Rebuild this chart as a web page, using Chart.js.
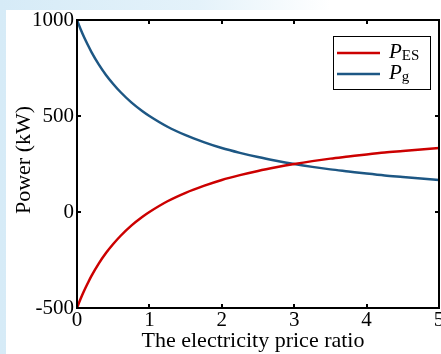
<!DOCTYPE html>
<html>
<head>
<meta charset="utf-8">
<script src="https://cdn.jsdelivr.net/npm/chart.js@4.4.1/dist/chart.umd.min.js"></script>
<style>
  html, body { margin: 0; padding: 0; }
  body {
    width: 441px; height: 354px; overflow: hidden;
    background: linear-gradient(90deg, #d6ebf7 0%, #e4f2fa 45%, #ffffff 75%);
  }
  #wrap { position: relative; width: 441px; height: 354px; }
  canvas { position: absolute; left: 0; top: 0; }
</style>
</head>
<body>
<div id="wrap"><canvas id="c" width="441" height="354"></canvas></div>
<script>
// ---- data ----
const priceRatio = [0, 0.05, 0.1, 0.15, 0.2, 0.3, 0.4, 0.5, 0.6, 0.75, 0.9, 1, 1.25, 1.5, 1.75, 2, 2.25, 2.5, 2.75, 3, 3.25, 3.5, 3.75, 4, 4.25, 4.5, 4.75, 5];
const powerES = [-500, -452, -409, -370, -333, -269, -214, -167, -125, -71, -26, 0, 56, 100, 136, 167, 192, 214, 233, 250, 265, 278, 289, 300, 310, 318, 326, 333];
const powerG  = [1000, 952, 909, 870, 833, 769, 714, 667, 625, 571, 526, 500, 444, 400, 364, 333, 308, 286, 267, 250, 235, 222, 211, 200, 190, 182, 174, 167];
const xTicks = [0, 1, 2, 3, 4, 5];
const yTicks = [-500, 0, 500, 1000];
const seriesNames = [{ main: 'P', sub: 'ES' }, { main: 'P', sub: 'g' }];
const xTitle = 'The electricity price ratio';
const yTitle = 'Power (kW)';

const RED = '#cc0000';
const BLUE = '#1d5784';
const FONT = '"Liberation Serif", "Times New Roman", serif';

const toPts = (xs, ys) => xs.map((x, i) => ({ x: x, y: ys[i] }));

const framePlugin = {
  id: 'frame',
  beforeDraw(chart) {
    const ctx = chart.ctx;
    ctx.save();
    ctx.fillStyle = '#ffffff';
    ctx.fillRect(6, 10, 441, 354);
    ctx.restore();
  },
  afterDatasetsDraw(chart) {
    const ctx = chart.ctx;
    const a = chart.chartArea;
    const xs = chart.scales.x, ys = chart.scales.y;
    ctx.save();
    ctx.strokeStyle = '#000';
    ctx.lineWidth = 2;
    ctx.strokeRect(a.left, a.top, a.right - a.left, a.bottom - a.top);
    const tl = 4;
    ctx.beginPath();
    xTicks.forEach(v => {
      const px = Math.round(xs.getPixelForValue(v));
      ctx.moveTo(px, a.bottom); ctx.lineTo(px, a.bottom - tl);
      ctx.moveTo(px, a.top); ctx.lineTo(px, a.top + tl);
    });
    yTicks.forEach(v => {
      const py = Math.round(ys.getPixelForValue(v));
      ctx.moveTo(a.left, py); ctx.lineTo(a.left + tl, py);
      ctx.moveTo(a.right, py); ctx.lineTo(a.right - tl, py);
    });
    ctx.stroke();

    // legend
    const lx = 333, ly = 36, lw = 97, lh = 53;
    ctx.fillStyle = '#fff';
    ctx.fillRect(lx, ly, lw, lh);
    ctx.lineWidth = 1;
    ctx.strokeStyle = '#000';
    ctx.strokeRect(lx + 0.5, ly + 0.5, lw, lh);
    const rows = [{ c: RED, y: 53 }, { c: BLUE, y: 74 }];
    rows.forEach((r, i) => {
      ctx.strokeStyle = r.c;
      ctx.lineWidth = 2.5;
      ctx.beginPath();
      ctx.moveTo(337, r.y); ctx.lineTo(380, r.y);
      ctx.stroke();
      ctx.fillStyle = '#000';
      ctx.textBaseline = 'alphabetic';
      ctx.textAlign = 'left';
      ctx.font = 'italic 21px ' + FONT;
      ctx.fillText(seriesNames[i].main, 389, r.y + 5);
      const w = ctx.measureText(seriesNames[i].main).width;
      ctx.font = '15px ' + FONT;
      ctx.fillText(seriesNames[i].sub, 389 + w, r.y + 7);
    });

    // axis titles
    ctx.fillStyle = '#000';
    ctx.font = '22px ' + FONT;
    ctx.textAlign = 'center';
    ctx.textBaseline = 'middle';
    ctx.fillText(xTitle, 253, 341);
    ctx.translate(24, 160);
    ctx.rotate(-Math.PI / 2);
    ctx.fillText(yTitle, 0, 0);
    ctx.restore();
  }
};

new Chart(document.getElementById('c'), {
  type: 'line',
  data: {
    datasets: [
      { label: 'P_ES', data: toPts(priceRatio, powerES), borderColor: RED, borderWidth: 2.5, pointRadius: 0, cubicInterpolationMode: 'monotone', fill: false },
      { label: 'P_g', data: toPts(priceRatio, powerG), borderColor: BLUE, borderWidth: 2.5, pointRadius: 0, cubicInterpolationMode: 'monotone', fill: false }
    ]
  },
  options: {
    responsive: false,
    animation: false,
    devicePixelRatio: 1,
    layout: { padding: { top: 20, right: 2, left: 0, bottom: 0 } },
    plugins: { legend: { display: false }, tooltip: { enabled: false } },
    scales: {
      x: {
        type: 'linear', min: 0, max: 5,
        grid: { display: false, drawTicks: false },
        border: { display: false },
        afterBuildTicks: s => { s.ticks = xTicks.map(v => ({ value: v })); },
        ticks: { color: '#000', padding: 0, maxRotation: 0, autoSkip: false, font: { family: FONT, size: 21 }, callback: v => String(v) },
        afterFit: s => { s.height = 46; s.paddingLeft = 0; s.paddingRight = 0; }
      },
      y: {
        type: 'linear', min: -500, max: 1000,
        grid: { display: false, drawTicks: false },
        border: { display: false },
        afterBuildTicks: s => { s.ticks = yTicks.map(v => ({ value: v })); },
        ticks: { color: '#000', padding: 3, autoSkip: false, font: { family: FONT, size: 21 }, callback: v => String(v) },
        afterFit: s => { s.width = 77; s.paddingTop = 0; s.paddingBottom = 0; }
      }
    }
  },
  plugins: [framePlugin]
});
</script>
</body>
</html>
